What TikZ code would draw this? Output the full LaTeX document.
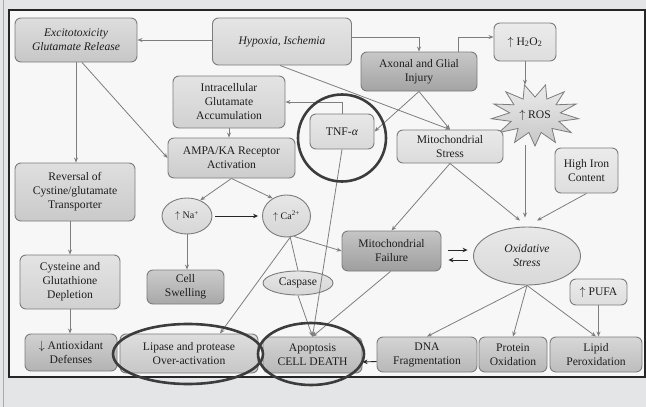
\documentclass[tikz,border=0pt]{standalone}
\usepackage{fontspec}
\setmainfont{Liberation Serif}
\usetikzlibrary{arrows.meta,shapes.geometric}

\definecolor{pagebg}{HTML}{E4E5E7}
\definecolor{frameln}{HTML}{A9AAAD}
\definecolor{boxln}{HTML}{7C7C7C}
\definecolor{wirecol}{HTML}{7E7E7E}
\definecolor{ringcol}{HTML}{3C3C3C}
\definecolor{txt}{HTML}{1E1E1E}

\newcommand\diagfont{\fontsize{11.6}{14}\selectfont}

\begin{document}
\begin{tikzpicture}[x=1pt,y=-1pt,
  every node/.style={text=txt, font=\diagfont},
  rbox/.style={draw=boxln, line width=0.9pt, rounded corners=6pt, align=center,
    inner sep=1pt, top color=#1!60!white, bottom color=#1},
  oval/.style={ellipse, draw=boxln, line width=0.9pt, align=center, inner sep=0pt,
    top color=#1!60!white, bottom color=#1},
  wire/.style={draw=wirecol, line width=0.8pt},
  flow/.style={wire, -{Stealth[length=5pt,width=4pt]}},
  bold flow/.style={draw=black!85, line width=0.9pt, -{Stealth[length=5pt,width=4.5pt]}},
  ring/.style={ellipse, draw=ringcol, line width=2.6pt, inner sep=0pt}
]
% page and panel
\fill[pagebg] (0,0) rectangle (646,407);
\useasboundingbox (0,0) rectangle (646,407);
\draw[frameln, line width=0.8pt] (3.5,0) -- (3.5,407);
\draw[fill=white!97!black, draw=black!85, line width=1.3pt] (9,10) rectangle (645,377);

% ROS burst
\draw[draw=boxln, line width=0.8pt, top color=white!92!black, bottom color=white!78!black]
  plot[domain=0:26, samples=27, variable=\k]
  ({535+(1-0.42*mod(round(\k),2))*44*cos(\k*360/26+90)},
   {115+(1-0.42*mod(round(\k),2))*31*sin(\k*360/26+90)}) -- cycle;

% nodes
\node[rbox=white!78!black, minimum width=122pt, minimum height=44pt, font=\diagfont\itshape] (exc) at (76,40) {Excitotoxicity\\Glutamate Release};
\node[rbox=white!83!black, minimum width=139pt, minimum height=47pt, font=\diagfont\itshape] (hyp) at (282,41.5) {Hypoxia, Ischemia};
\node[rbox=white!82!black, minimum width=112pt, minimum height=52pt] (iga) at (229,102) {Intracellular\\Glutamate\\Accumulation};
\node[rbox=white!80!black, minimum width=127pt, minimum height=40pt] (ampa) at (231.5,158) {AMPA/KA Receptor\\Activation};
\node[rbox=white!85!black, minimum width=64pt, minimum height=35pt] (tnf) at (342,131.5) {TNF-\textit{α}};
\node[rbox=white!64!black, minimum width=116pt, minimum height=39pt] (axo) at (419,71.5) {Axonal and Glial\\Injury};
\node[rbox=white!87!black, minimum width=62pt, minimum height=38pt] (h2o2) at (525,42) {$\uparrow$\ H\textsubscript{2}O\textsubscript{2}};
\node[ellipse, inner sep=0pt, minimum width=86pt, minimum height=60pt] (ros) at (535,115) {$\uparrow$ ROS};
\node[rbox=white!86!black, minimum width=106pt, minimum height=33pt] (ms) at (450,146.5) {Mitochondrial\\Stress};
\node[rbox=white!87!black, minimum width=63pt, minimum height=45pt] (iron) at (586.5,170.5) {High Iron\\Content};
\node[rbox=white!79!black, minimum width=120pt, minimum height=58pt] (rev) at (75,192) {Reversal of\\Cystine/glutamate\\Transporter};
\node[oval=white!84!black, minimum width=50pt, minimum height=36pt, font=\fontsize{10}{12}\selectfont] (na) at (187,216) {$\uparrow$ Na\textsuperscript{+}};
\node[oval=white!84!black, minimum width=48pt, minimum height=42pt, font=\fontsize{10}{12}\selectfont] (ca) at (286.5,216) {$\uparrow$ Ca\textsuperscript{2+}};
\node[rbox=white!62!black, minimum width=99pt, minimum height=40pt] (mf) at (391.5,251) {Mitochondrial\\Failure};
\node[oval=white!85!black, minimum width=107pt, minimum height=58pt, font=\diagfont\itshape] (ox) at (527,256) {Oxidative\\Stress};
\node[oval=white!84!black, minimum width=70pt, minimum height=24pt] (casp) at (298,283) {Caspase};
\node[rbox=white!82!black, minimum width=100pt, minimum height=54pt] (cys) at (70,282) {Cysteine and\\Glutathione\\Depletion};
\node[rbox=white!66!black, minimum width=77pt, minimum height=34pt] (cs) at (185.5,287) {Cell\\Swelling};
\node[rbox=white!70!black, minimum width=92pt, minimum height=37pt] (anti) at (71,352.5) {$\downarrow$ Antioxidant\\Defenses};
\node[rbox=white!78!black, minimum width=138pt, minimum height=39pt] (lip) at (189,353.5) {Lipase and protease\\Over-activation};
\node[rbox=white!72!black, minimum width=99pt, minimum height=36pt] (apo) at (312.5,355) {Apoptosis\\CELL DEATH};
\node[rbox=white!72!black, minimum width=100pt, minimum height=35pt] (dna) at (427,354.5) {DNA\\Fragmentation};
\node[rbox=white!72!black, minimum width=68pt, minimum height=35pt] (prot) at (513,354.5) {Protein\\Oxidation};
\node[rbox=white!74!black, minimum width=92pt, minimum height=35pt] (lipid) at (596,354.5) {Lipid\\Peroxidation};
\node[rbox=white!87!black, minimum width=57pt, minimum height=26pt] (pufa) at (598.5,292) {$\uparrow$ PUFA};

% connectors
\draw[flow] (hyp.west |- exc.east) -- (exc.east);
\draw[flow] ([yshift=4pt]hyp.east) -| (axo.north);
\draw[flow] ([xshift=39pt]axo.north) |- ([yshift=5pt]h2o2.west);
\draw[flow] (h2o2.south) -- (h2o2.south |- ros.north);
\draw[flow] ([xshift=-2pt]hyp.south) -- (ms.north);
\draw[flow] (axo.south) -- (ms.north);
\draw[flow] (axo.south) -- (tnf.east);
\draw[flow] (tnf.north) |- (iga.east);
\draw[flow] (iga.south) -- (iga.south |- ampa.north);
\draw[flow] ([xshift=6pt]exc.south) -- (ampa.west);
\draw[flow] (exc.south) -- (exc.south |- rev.north);
\draw[flow] (cys.north |- rev.south) -- (cys.north);
\draw[flow] (cys.south) -- (cys.south |- anti.north);
\draw[flow] (ampa.south) -- (na.50);
\draw[flow] (ampa.south) -- (ca.128);
\draw[bold flow, shorten <=3pt, shorten >=4pt] (na.east) -- (ca.west);
\draw[flow] (na.south) -- (na.south |- cs.north);
\draw[flow] (ca.-70) -- (mf.west);
\draw[wire] (ca.-80) -- (casp.north);
\draw[flow] (ca.-80) -- ([xshift=31pt]lip.north);
\draw[flow] (casp.south) -- (apo.north);
\draw[flow] (tnf.south) -- (apo.north);
\draw[flow] ([xshift=-1pt]mf.south) -- (apo.north);
\draw[flow] (ms.south) -- (mf.north);
\draw[flow] (ms.south) -- ([xshift=-7pt,yshift=6pt]ox.north);
\draw[flow] (h2o2.south |- ros.south) -- ([yshift=9pt]ox.north -| h2o2.south);
\draw[flow] (iron.south) -- ([xshift=10pt,yshift=6pt]ox.north);
\draw[bold flow] ([xshift=7pt,yshift=1pt]mf.east) -- ([xshift=-5.5pt,yshift=6pt]ox.west);
\draw[bold flow] ([xshift=-5.5pt,yshift=-4pt]ox.west) -- ([xshift=7pt,yshift=-9pt]mf.east);
\draw[flow] (ox.south) -- (dna.north);
\draw[flow] (ox.south) -- (prot.north);
\draw[flow] (ox.south) -- (lipid.north);
\draw[flow] (pufa.south) -- (pufa.south |- lipid.north);
\draw[bold flow] ([yshift=-7pt]dna.west) -- ([yshift=-7pt]apo.east);

% highlight rings
\node[ring, minimum width=88pt, minimum height=87pt] (tnfring) at (342,138) {};
\node[ring, minimum width=150pt, minimum height=60pt] (lipring) at (188,354) {};
\node[ring, minimum width=106pt, minimum height=62pt] (aporing) at (311,354) {};
\end{tikzpicture}
\end{document}
